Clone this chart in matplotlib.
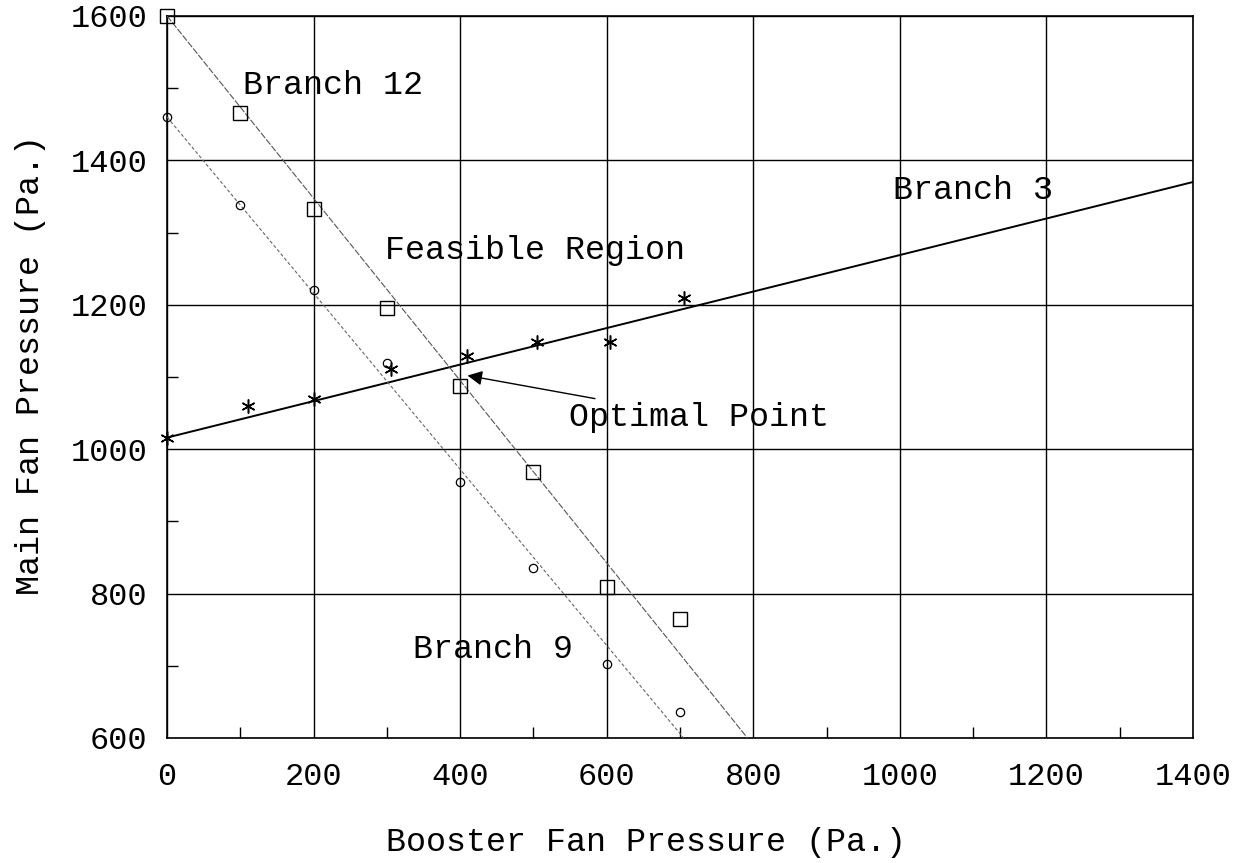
import matplotlib
matplotlib.use('Agg')
import matplotlib.pyplot as plt
from matplotlib.ticker import MultipleLocator

# 数据
booster = [0, 100, 200, 300, 400, 500, 600, 700]
branch12_y = [1600, 1465, 1333, 1195, 1087, 969, 809, 765]
branch9_y = [1460, 1338, 1220, 1119, 954, 835, 702, 636]
branch3_x = [0, 110, 200, 305, 410, 505, 605, 705]
branch3_y = [1015, 1060, 1070, 1111, 1129, 1148, 1148, 1209]

# 拟合直线的端点
fit12_x = [0, 792]
fit12_y = [1600, 600]
fit9_x = [0, 705]
fit9_y = [1460, 600]
fit3_x = [0, 1400]
fit3_y = [1016, 1370]

x_ticks = [0, 200, 400, 600, 800, 1000, 1200, 1400]
y_ticks = [600, 800, 1000, 1200, 1400, 1600]

plt.rcParams['font.family'] = ['Liberation Mono', 'DejaVu Sans Mono']

fig = plt.figure(figsize=(12.42, 8.63), dpi=100)
ax = fig.add_axes([0.1345, 0.1449, 0.826, 0.8366])

# 拟合线
ax.plot(fit3_x, fit3_y, color='black', lw=1.4, zorder=3)
ax.plot(fit12_x, fit12_y, color='#555555', lw=0.8, ls=(0, (6, 1.5)), zorder=3)
ax.plot(fit9_x, fit9_y, color='#666666', lw=0.8, ls=(0, (3, 2)), zorder=3)

# 数据点
ax.plot(booster, branch12_y, ls='none', marker='s', ms=10, mfc='none',
        mec='black', mew=1.0, clip_on=False, zorder=4)
ax.plot(booster, branch9_y, ls='none', marker='o', ms=6, mfc='none',
        mec='black', mew=0.9, clip_on=False, zorder=4)
ax.plot(branch3_x, branch3_y, ls='none', marker=(6, 2, 0), ms=10,
        color='black', mew=1.1, clip_on=False, zorder=4)

ax.set_xlim(0, 1400)
ax.set_ylim(600, 1600)
ax.set_xticks(x_ticks)
ax.set_yticks(y_ticks)
ax.xaxis.set_minor_locator(MultipleLocator(100))
ax.yaxis.set_minor_locator(MultipleLocator(100))
ax.tick_params(which='major', length=0, labelsize=23)
ax.tick_params(axis='y', which='major', pad=14)
ax.tick_params(axis='x', which='major', pad=17)
ax.tick_params(which='minor', direction='in', length=8, width=1)

ax.grid(True, which='major', color='black', lw=1.0)
for sp in ax.spines.values():
    sp.set_linewidth(1.2)

ax.set_xlabel('Booster Fan Pressure (Pa.)', fontsize=24, va='center')
ax.set_ylabel('Main Fan Pressure (Pa.)', fontsize=24, va='center')
ax.xaxis.set_label_coords(0.467, -0.145)
ax.yaxis.set_label_coords(-0.1335, 0.517)

# 注释文字
ax.text(104, 1504, 'Branch 12', fontsize=24, va='center', ha='left')
ax.text(297, 1275, 'Feasible Region', fontsize=24, va='center', ha='left')
ax.text(990, 1358, 'Branch 3', fontsize=24, va='center', ha='left')
ax.text(336, 722, 'Branch 9', fontsize=24, va='center', ha='left')
ax.annotate('Optimal Point', xy=(410, 1102), xytext=(548, 1044),
            fontsize=24, va='center', ha='left',
            arrowprops=dict(arrowstyle='-|>', color='black', lw=1.0,
                            mutation_scale=22, shrinkA=2, shrinkB=0))

fig.savefig('out.png', dpi=100)
